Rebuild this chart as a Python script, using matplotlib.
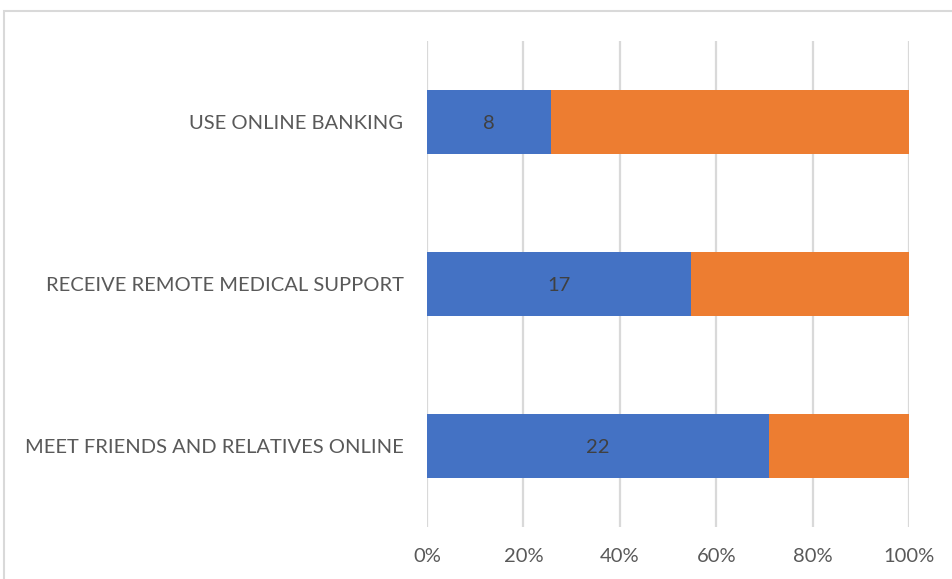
import matplotlib
matplotlib.use('Agg')
import matplotlib.pyplot as plt
from matplotlib.patches import Rectangle
from matplotlib.ticker import PercentFormatter

# Dados
categories = ['MEET FRIENDS AND RELATIVES ONLINE',
              'RECEIVE REMOTE MEDICAL SUPPORT',
              'USE ONLINE BANKING']
yes_counts = [22, 17, 8]
no_counts = [9, 14, 23]

plt.rcParams['font.family'] = ['Lato', 'DejaVu Sans']

fig = plt.figure(figsize=(9.52, 5.79), dpi=100)
ax = fig.add_axes([427 / 952, 52 / 579, 482 / 952, 486 / 579])

# Converter para percentuais (barras 100% empilhadas)
totals = [a + b for a, b in zip(yes_counts, no_counts)]
yes_pct = [a / t * 100 for a, t in zip(yes_counts, totals)]
no_pct = [b / t * 100 for b, t in zip(no_counts, totals)]

pos = range(len(categories))
bars_yes = ax.barh(pos, yes_pct, height=0.4, color='#4472C4', zorder=3)
ax.barh(pos, no_pct, left=yes_pct, height=0.4, color='#ED7D31', zorder=3)

# Rótulos de valor no meio da parte azul
for rect, val in zip(bars_yes, yes_counts):
    ax.text(rect.get_x() + rect.get_width() / 2, rect.get_y() + rect.get_height() / 2 - 0.01,
            str(val), ha='center', va='center', fontsize=14.5, color='#404040', zorder=4)

ax.set_xlim(0, 100)
ax.set_ylim(-0.5, 2.5)
ax.set_xticks([0, 20, 40, 60, 80, 100])
ax.xaxis.set_major_formatter(PercentFormatter(decimals=0))
ax.set_yticks(list(pos))
ax.set_yticklabels(categories)

ax.grid(axis='x', color='#d9d9d9', linewidth=1.6, zorder=0)
for s in ax.spines.values():
    s.set_visible(False)
ax.tick_params(axis='both', length=0, labelsize=14.5, colors='#595959')
ax.tick_params(axis='y', pad=17)
ax.tick_params(axis='x', pad=15)

# Moldura do gráfico
fig.patches.append(Rectangle((4 / 952, -0.1), 1.2, 1 - 11 / 579 + 0.1,
                             transform=fig.transFigure, fill=False,
                             edgecolor='#d9d9d9', linewidth=1.5))

fig.savefig('out.png', dpi=100)
